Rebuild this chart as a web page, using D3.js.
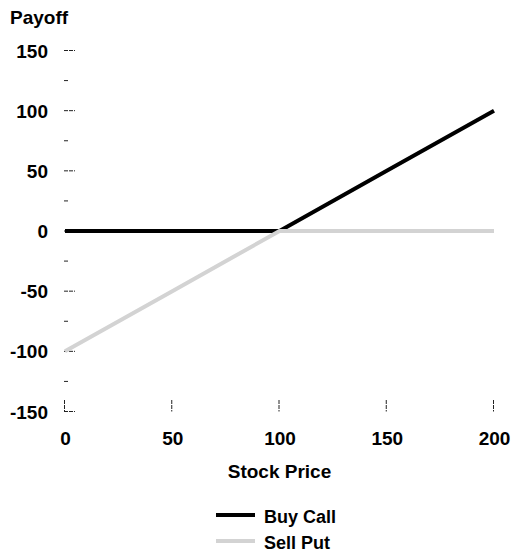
<!DOCTYPE html>
<html><head><meta charset="utf-8">
<script src="https://cdn.jsdelivr.net/npm/d3@7"></script>
<style>body{margin:0;background:#fff;} text{font-family:"Liberation Sans",Arial,sans-serif;font-weight:bold;}</style>
</head><body>
<svg id="c" width="514" height="554"></svg>
<script>
const stockPrices = [0, 50, 100, 150, 200];
const buyCall = [0, 0, 0, 50, 100];
const sellPut = [-100, -50, 0, 0, 0];
const xTicks = [0, 50, 100, 150, 200];
const yTicks = [150, 100, 50, 0, -50, -100, -150];
const yMinorTicks = [125, 75, 25, -25, -75, -125];

const svg = d3.select("#c");
const x = d3.scaleLinear().domain([0, 200]).range([65, 494]);
const y = d3.scaleLinear().domain([-150, 150]).range([411.5, 50.5]);
const tickColor = "#222";

const g = svg.append("g");
// y ticks
g.selectAll(".ymaj").data(yTicks).enter().append("line")
  .attr("x1", 64).attr("x2", 75).attr("y1", d => y(d)).attr("y2", d => y(d))
  .attr("stroke", tickColor).attr("stroke-width", 1).attr("stroke-dasharray", "4,1");
g.selectAll(".ymin").data(yMinorTicks).enter().append("line")
  .attr("x1", 64).attr("x2", 69).attr("y1", d => y(d)).attr("y2", d => y(d))
  .attr("stroke", tickColor).attr("stroke-width", 1).attr("stroke-dasharray", "4,1");
g.selectAll(".ylab").data(yTicks).enter().append("text")
  .attr("x", 48).attr("y", d => y(d) + 7).attr("text-anchor", "end")
  .attr("font-size", 19).attr("fill", "#000").text(d => d);

// x ticks
g.selectAll(".xmaj").data(xTicks).enter().append("line")
  .attr("x1", d => x(d) - 0.5).attr("x2", d => x(d) - 0.5).attr("y1", 400).attr("y2", 411.5)
  .attr("stroke", tickColor).attr("stroke-width", 1).attr("stroke-dasharray", "4,1");
g.selectAll(".xlab").data(xTicks).enter().append("text")
  .attr("x", d => x(d) + 0.5).attr("y", 445).attr("text-anchor", "middle")
  .attr("font-size", 19).attr("fill", "#000").text(d => d);

svg.append("text").attr("x", 10).attr("y", 24).attr("font-size", 19).text("Payoff");
svg.append("text").attr("x", 279.5).attr("y", 478).attr("text-anchor", "middle").attr("font-size", 19).text("Stock Price");

const line = d3.line().x(d => x(d[0])).y(d => y(d[1]));
svg.append("path").datum(stockPrices.map((s, i) => [s, buyCall[i]]))
  .attr("d", line).attr("fill", "none").attr("stroke", "#000").attr("stroke-width", 4);
svg.append("path").datum(stockPrices.map((s, i) => [s, sellPut[i]]))
  .attr("d", line).attr("fill", "none").attr("stroke", "#d3d3d3").attr("stroke-width", 4);

// legend
const legend = [["Buy Call", "#000"], ["Sell Put", "#d3d3d3"]];
const lg = svg.selectAll(".lg").data(legend).enter().append("g")
  .attr("transform", (d, i) => `translate(0,${515 + i * 26})`);
lg.append("line").attr("x1", 216).attr("x2", 255).attr("y1", 0).attr("y2", 0)
  .attr("stroke", d => d[1]).attr("stroke-width", 4);
lg.append("text").attr("x", 264).attr("y", 8).attr("font-size", 18).text(d => d[0]);
</script>
</body></html>
